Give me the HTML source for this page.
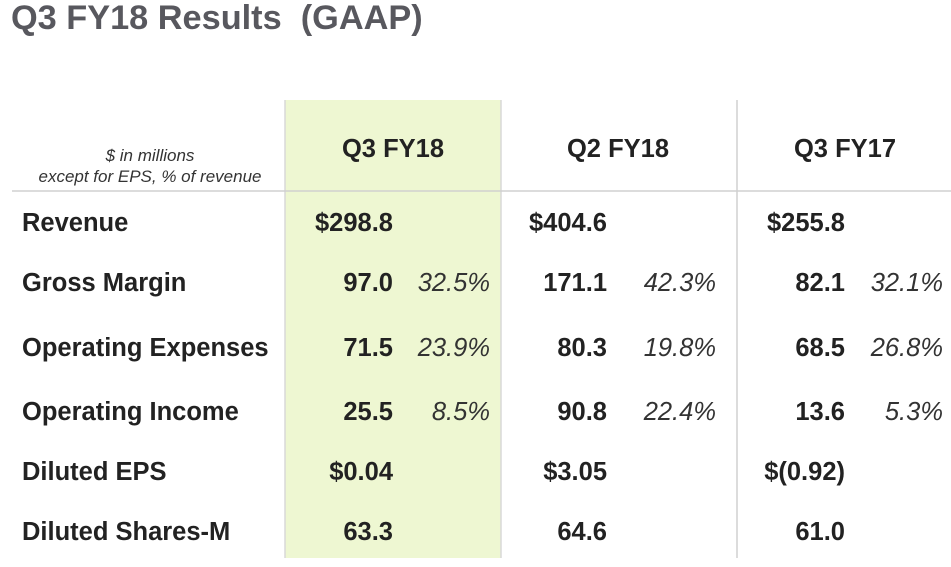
<!DOCTYPE html>
<html><head><meta charset="utf-8"><style>
html,body{margin:0;padding:0;background:#fff;}
svg{display:block;font-family:"Liberation Sans",Arial,sans-serif;}
</style></head><body>
<svg width="951" height="567" viewBox="0 0 951 567">
<text x="11" y="29" font-size="34.3" font-weight="bold" fill="#58585e" xml:space="preserve">Q3 FY18 Results  (GAAP)</text>
<rect x="285" y="100" width="216" height="458" fill="#eef7d2"/>
<line x1="285" y1="100" x2="285" y2="558" stroke="#d8d8d8" stroke-width="1.5"/>
<line x1="501" y1="100" x2="501" y2="558" stroke="#d8d8d8" stroke-width="1.5"/>
<line x1="737" y1="100" x2="737" y2="558" stroke="#d0d0d0" stroke-width="1.5"/>
<line x1="12" y1="191" x2="951" y2="191" stroke="#d0d0d0" stroke-width="1.5"/>
<g font-style="italic" font-size="17" fill="#333" text-anchor="middle">
<text x="150" y="161">$ in millions</text>
<text x="150" y="182">except for EPS, % of revenue</text>
</g>
<g id="tbl" fill="#222"></g>
</svg>
<script>
const periods = ["Q3 FY18","Q2 FY18","Q3 FY17"];
const rowLabels = ["Revenue","Gross Margin","Operating Expenses","Operating Income","Diluted EPS","Diluted Shares-M"];
const valuesQ3FY18 = ["$298.8","97.0","71.5","25.5","$0.04","63.3"];
const valuesQ2FY18 = ["$404.6","171.1","80.3","90.8","$3.05","64.6"];
const valuesQ3FY17 = ["$255.8","82.1","68.5","13.6","$(0.92)","61.0"];
const pctQ3FY18 = ["","32.5%","23.9%","8.5%","",""];
const pctQ2FY18 = ["","42.3%","19.8%","22.4%","",""];
const pctQ3FY17 = ["","32.1%","26.8%","5.3%","",""];

const NS="http://www.w3.org/2000/svg";
const g=document.getElementById('tbl');
const baselines=[231,291,356,420,480,540];
const headX=[393,618,845];
const valX=[393,607,845];
const pctX=[490,716,943];
const vals=[valuesQ3FY18,valuesQ2FY18,valuesQ3FY17];
const pcts=[pctQ3FY18,pctQ2FY18,pctQ3FY17];
function t(x,y,s,opt){
  const e=document.createElementNS(NS,'text');
  e.setAttribute('x',x);e.setAttribute('y',y);
  e.setAttribute('font-size',opt.size);
  if(opt.bold)e.setAttribute('font-weight','bold');
  if(opt.italic)e.setAttribute('font-style','italic');
  if(opt.anchor)e.setAttribute('text-anchor',opt.anchor);
  if(opt.fill)e.setAttribute('fill',opt.fill);
  e.textContent=s;g.appendChild(e);return e;
}
periods.forEach((p,i)=>{
  const e=t(headX[i],157,p,{size:25.5,bold:true,anchor:'middle'});
  
  
});
rowLabels.forEach((r,j)=>{
  const e=t(22,baselines[j],r,{size:25.5,bold:true});
  
  
  for(let i=0;i<3;i++){
    const v=t(valX[i],baselines[j],vals[i][j],{size:25.5,bold:true,anchor:'end'});
    
    
    if(pcts[i][j]){
      const pe=t(pctX[i],baselines[j],pcts[i][j],{size:25.5,italic:true,anchor:'end',fill:'#333'});
      
      
    }
  }
});
</script>
</body></html>
